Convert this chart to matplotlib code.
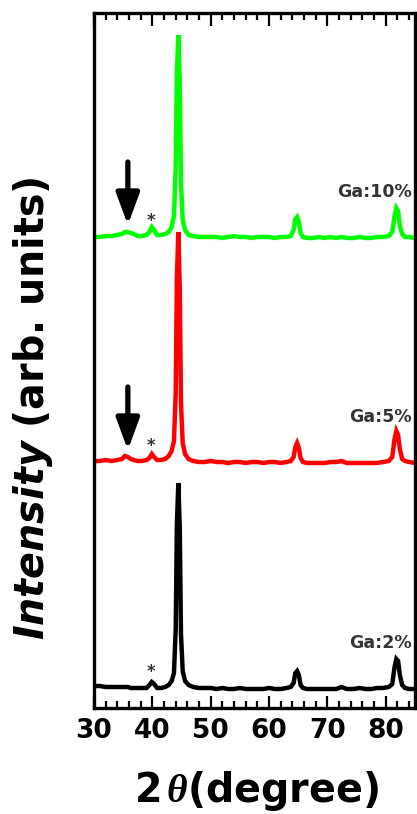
import numpy as np
import matplotlib
matplotlib.use("Agg")
import matplotlib.pyplot as plt

plt.rcParams['font.family'] = ['DejaVu Sans']
plt.rcParams['font.weight'] = 'bold'
plt.rcParams['mathtext.fontset'] = 'custom'
plt.rcParams['mathtext.it'] = 'Liberation Serif:italic'
plt.rcParams['mathtext.bfit'] = 'DejaVu Sans:italic:bold'

# 2theta grid
two_theta = [30, 31, 32, 33, 34, 34.8, 35.3, 35.8, 36.3, 36.8, 37.5, 38.3, 39.0,
             39.5, 39.9, 40.3, 40.8, 41.5, 42.2, 42.8, 43.3, 43.7, 44.0, 44.2,
             44.45, 44.7, 44.9, 45.2, 45.6, 46.2, 47, 48, 49, 50, 51, 52, 53, 54,
             55, 56, 57, 58, 59, 60, 61, 62, 63, 63.7, 64.2, 64.5, 64.8, 65.1,
             65.4, 65.8, 66.5, 67.5, 68.5, 69.5, 70.5, 71.5, 72.4, 73.3, 74.5,
             75.5, 76.5, 77.5, 78.5, 79.5, 80.5, 81.1, 81.5, 81.8, 82.1, 82.4,
             82.8, 83.3, 84, 85]

ga2 = [3, 3, 2, 2, 2, 2, 2, 2, 1, 1, 1, 1, 1, 4, 7, 5, 1, 1, 2, 4, 8, 16,
       60, 165, 206, 160, 55, 18, 8, 4, 2,
       1, 1, 1, 0, 1, 0, 0, 1, 0, 0, 0, 0, 1, 0, 0, 1,
       2, 6, 16, 18, 14, 4, 1, 0,
       0, 0, 0, 0, 0, 2, 0, 0, 1, 0, 0, 1, 1, 2,
       5, 22, 30, 28, 14, 4, 1, 0, 0]

ga5 = [2, 2, 3, 2, 3, 4, 7, 6, 4, 3, 2, 2, 3, 5, 9, 6, 3, 3, 4, 7, 12, 22,
       70, 185, 231, 175, 60, 20, 9, 4, 2,
       1, 1, 2, 1, 1, 0, 1, 1, 0, 1, 1, 0, 1, 1, 0, 1,
       2, 6, 16, 20, 15, 5, 1, 0,
       0, 0, 0, 1, 1, 2, 0, 0, 0, 0, 0, 0, 1, 2,
       6, 24, 32, 28, 14, 4, 2, 1, 0]

ga10 = [1, 1, 2, 2, 3, 4, 6, 6, 5, 4, 2, 2, 3, 6, 11, 8, 3, 3, 4, 6, 11, 22,
        70, 165, 203, 155, 55, 18, 8, 3, 2,
        1, 1, 1, 1, 0, 1, 2, 1, 1, 0, 1, 1, 1, 0, 1, 1,
        2, 8, 19, 21, 16, 5, 1, 0,
        0, 1, 0, 1, 0, 1, 0, 0, 1, 0, 0, 1, 1, 2,
        6, 22, 30, 27, 12, 4, 1, 1, 0]

labels = ['Ga:2%', 'Ga:5%', 'Ga:10%']
offsets = [0, 226, 451]
colors = ['black', '#ff0000', '#00ff00']

fig = plt.figure(figsize=(4.17, 8.14), dpi=100)
ax = fig.add_axes([94 / 417, 106 / 814, 321 / 417, 695 / 814])

for y, off, c, lab in zip([ga2, ga5, ga10], offsets, colors, labels):
    ax.plot(two_theta, np.array(y) + off, color=c, lw=3.2, solid_joinstyle='miter')
    ax.text(84.4, off + 46, lab, ha='right', va='center', fontsize=12.5,
            fontweight='bold', color='#333333')
    ax.text(39.8, off + 17, '*', ha='center', va='center', fontsize=12,
            fontweight='bold', color='#333333')

# arrows marking the extra peak
for off in offsets[1:]:
    ax.annotate('', xy=(35.8, off + 13), xytext=(35.8, off + 76),
                arrowprops=dict(arrowstyle='-|>,head_length=1.9,head_width=0.7',
                                lw=3.8, color='black', shrinkA=0, shrinkB=0))

ax.set_xlim(30, 85)
ax.set_ylim(-19, 676)
ax.set_xticks([30, 40, 50, 60, 70, 80])
ax.set_xticks(np.arange(30, 86, 2), minor=True)
ax.set_yticks([])
ax.tick_params(axis='x', which='both', direction='in', top=True, bottom=True,
               labelsize=19, width=1.6, pad=7)
ax.tick_params(axis='x', which='major', length=9)
ax.tick_params(axis='x', which='minor', length=5)
for lbl in ax.get_xticklabels():
    lbl.set_fontweight('bold')
for s in ax.spines.values():
    s.set_linewidth(2.4)

fig.text(257 / 417, 1 - 791 / 814, r'2$\,\theta$(degree)', ha='center', va='center',
         fontsize=28.5, fontweight='bold')
fig.text(33 / 417, 1 - 408 / 814, r'$\mathbfit{Intensity}$ (arb. units)',
         ha='center', va='center', rotation=90, fontsize=28.5, fontweight='bold')

fig.savefig('out.png', dpi=100)
